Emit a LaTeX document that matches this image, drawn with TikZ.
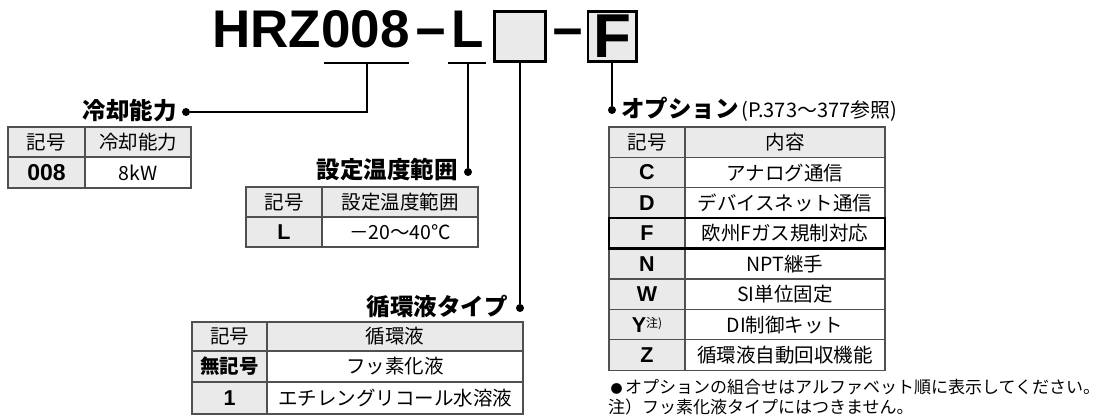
\documentclass[tikz,border=0pt]{standalone}
\usepackage{fontspec}
\setmainfont{Liberation Sans}
\newfontfamily\jp{Noto Sans CJK JP}
\usetikzlibrary{positioning}
\definecolor{cellgray}{HTML}{E9EAE9}
\definecolor{rulegray}{HTML}{505050}
\tikzset{
  code/.style={font=\fontsize{53}{53}\selectfont\bfseries, inner sep=0pt},
  lbl/.style={font=\jp\fontsize{23.5}{23.5}\selectfont\bfseries, inner sep=0pt},
  cell/.style={font=\jp\fontsize{19.5}{19.5}\selectfont, inner sep=0pt},
  sym/.style={font=\fontsize{21.5}{21.5}\selectfont\bfseries, inner sep=0pt},
  note/.style={font=\jp\fontsize{17}{17}\selectfont, inner sep=0pt, anchor=west},
  lead/.style={line width=2pt},
  dot/.style={circle, fill, inner sep=0pt, minimum size=8pt},
  grid/.style={draw=rulegray, line width=1.3pt},
  slot/.style={draw, line width=2.6pt, fill=cellgray, inner sep=0pt, minimum width=51pt, minimum height=50.4pt}
}
\begin{document}
\begin{tikzpicture}[x=1pt,y=-1pt]
  \useasboundingbox (0,0) rectangle (1102,419);
  % model code
  \node[code, anchor=base west] (series) at (212,48) {HRZ};
  \node[code, anchor=base west] (capacity) at (series.base east) {008};
  \node[code, anchor=base] (dash1) at (431,50) {−};
  \node[code, anchor=base west] (temp) at (451,48) {L};
  \node[slot] (fluid) at (520,36.5) {};
  \node[code, anchor=base] (dash2) at (567.5,50) {−};
  \node[slot, minimum width=48.4pt, font=\fontsize{62}{62}\selectfont\bfseries] (option) at (612,36.5) {F};
  \draw[lead] (324,63) -- (409,63);
  \draw[lead] (448,63) -- (486,63);
  \coordinate (capbar) at (367,63);
  \coordinate (tempbar) at (468,63);

  % leaders
  \node[dot] (capdot) at (186,112) {};
  \node[dot] (tempdot) at (468,172) {};
  \node[dot] (fluiddot) at (520,308) {};
  \node[dot] (optdot) at (612,110) {};
  \draw[lead] (capbar) |- (capdot);
  \draw[lead] (tempbar) -- (tempdot);
  \draw[lead] (fluid.south) -- (fluiddot);
  \draw[lead] (option.south) -- (optdot);
  \node[lbl, left=5pt of capdot, yshift=1pt] (caplbl) {冷却能力};
  \node[lbl, left=6pt of tempdot, yshift=2pt] (templbl) {設定温度範囲};
  \node[lbl, left=8pt of fluiddot, yshift=2pt] (fluidlbl) {循環液タイプ};
  \node[lbl, right=5pt of optdot, yshift=2pt] (optlbl) {オプション};
  \node[cell, font=\jp\fontsize{20}{20}\selectfont, anchor=base west] (optref) at ([xshift=2pt]optlbl.base east) {(P.373〜377参照)};

  % cooling capacity
  \fill[cellgray] (8,127) rectangle (191,157) (8,157) rectangle (85,188);
  \draw[grid] (8,127) rectangle (191,188) (8,157) -- (191,157) (85,127) -- (85,188);
  \node[cell] (caphd1) at (46.5,142) {記号};
  \node[cell] (caphd2) at (138,142) {冷却能力};
  \node[sym, font=\fontsize{23}{23}\selectfont\bfseries] (capsym) at (46.5,172.5) {008};
  \node[cell] (captxt) at (138,172.5) {8kW};

  % set temperature range
  \fill[cellgray] (246,187) rectangle (478,217) (246,217) rectangle (322,247);
  \draw[grid] (246,187) rectangle (478,247) (246,217) -- (478,217) (322,187) -- (322,247);
  \node[cell] (temphd1) at (284,202) {記号};
  \node[cell] (temphd2) at (400,202) {設定温度範囲};
  \node[sym] (tempsym) at (284,232) {L};
  \node[cell] (temptxt) at (400,232) {－20～40℃};

  % circulating fluid
  \fill[cellgray] (192,322) rectangle (523,351) (192,351) rectangle (267,414);
  \draw[grid] (192,322) rectangle (523,414) (192,351) -- (523,351) (192,382) -- (523,382) (267,322) -- (267,414);
  \node[cell] (fluidhd1) at (229.5,336.5) {記号};
  \node[cell] (fluidhd2) at (395,336.5) {循環液};
  \node[cell, font=\jp\fontsize{19.5}{19.5}\selectfont\bfseries] (fluidsym1) at (229.5,366.5) {無記号};
  \node[cell] (fluidtxt1) at (395,366.5) {フッ素化液};
  \node[sym] (fluidsym2) at (229.5,398) {1};
  \node[cell] (fluidtxt2) at (395,398) {エチレングリコール水溶液};

  % options
  \fill[cellgray] (609,127) rectangle (885,157.4) (609,157.4) rectangle (685,370.2);
  \draw[grid] (609,127) rectangle (885,370.2) (685,127) -- (685,370.2);
  \foreach \i in {1,...,7}
    \draw[grid] (609,127+30.4*\i) -- (885,127+30.4*\i);
  \draw[line width=2.6pt] (609,218.2) rectangle (885,248.6);
  \node[cell] (opthd1) at (647,142.2) {記号};
  \node[cell] (opthd2) at (785,142.2) {内容};
  \foreach \s/\t [count=\i] in {C/アナログ通信, D/デバイスネット通信, F/欧州Fガス規制対応, N/NPT継手, W/SI単位固定, {Y\raisebox{5pt}{\jp\fontsize{12}{12}\selectfont\mdseries 注)}}/DI制御キット, Z/循環液自動回収機能}
  {
    \node[sym] (optsym\i) at (647,142.2+30.4*\i) {\s};
    \node[cell] (opttxt\i) at (785,142.2+30.4*\i) {\t};
  }
  \node[note] (note1) at (608,387) {\makebox[17pt]{\fontsize{12}{12}\selectfont ●}オプションの組合せはアルファベット順に表示してください。};
  \node[note] (note2) at (608,407) {注）フッ素化液タイプにはつきません。};
\end{tikzpicture}
\end{document}
